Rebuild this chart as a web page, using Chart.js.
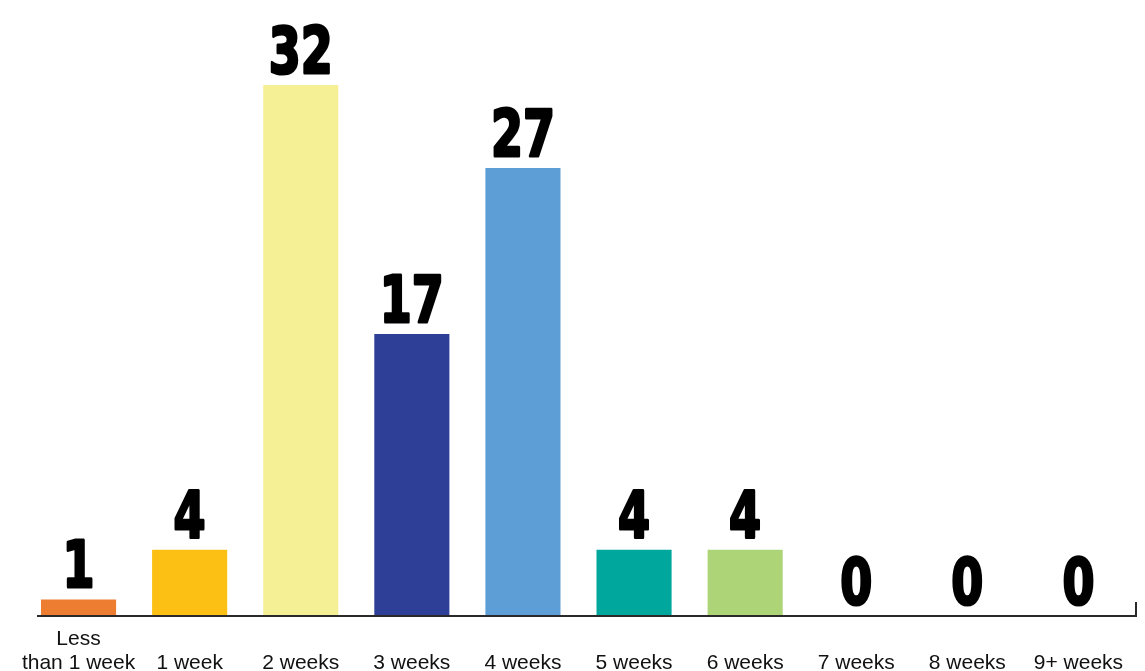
<!DOCTYPE html>
<html>
<head>
    <title>Weeks</title>
    <script src="https://cdn.jsdelivr.net/npm/chart.js"></script>
    <style>
        body { margin: 0; background: #fff; }
        #wrap { width: 1145px; height: 671px; }
    </style>
</head>
<body>
    <div id="wrap"><canvas id="chart"></canvas></div>

    <script>
        const categories = [['Less', 'than 1 week'], ['', '1 week'], ['', '2 weeks'], ['', '3 weeks'], ['', '4 weeks'],
            ['', '5 weeks'], ['', '6 weeks'], ['', '7 weeks'], ['', '8 weeks'], ['', '9+ weeks']];
        const counts = [1, 4, 32, 17, 27, 4, 4, 0, 0, 0];
        const barColors = ['#ED7D31', '#FCC014', '#F5F096', '#2E3F98', '#5E9ED6', '#00A79D', '#ADD577', '#000', '#000', '#000'];

        // big condensed numbers above each bar
        const valueLabels = {
            id: 'valueLabels',
            afterDatasetsDraw(chart) {
                const ctx = chart.ctx;
                const meta = chart.getDatasetMeta(0);
                ctx.save();
                ctx.fillStyle = '#000';
                ctx.strokeStyle = '#000';
                ctx.lineWidth = 3;
                ctx.lineJoin = 'round';
                ctx.font = 'bold 64px "DejaVu Sans"';
                ctx.textAlign = 'center';
                ctx.textBaseline = 'alphabetic';
                meta.data.forEach((bar, i) => {
                    ctx.save();
                    ctx.translate(bar.x, bar.y - 12);
                    ctx.scale(0.72, 1);
                    ctx.fillText(String(counts[i]), 0, 0);
                    ctx.strokeText(String(counts[i]), 0, 0);
                    ctx.restore();
                });
                ctx.restore();
            }
        };

        // baseline with a small end tick on the right
        const axisLine = {
            id: 'axisLine',
            afterDraw(chart) {
                const ctx = chart.ctx;
                const a = chart.chartArea;
                ctx.save();
                ctx.strokeStyle = '#2a2a2a';
                ctx.lineWidth = 2;
                ctx.beginPath();
                ctx.moveTo(a.left + 14, a.bottom);
                ctx.lineTo(a.right + 2, a.bottom);
                ctx.lineTo(a.right + 2, a.bottom - 14);
                ctx.stroke();
                ctx.restore();
            }
        };

        new Chart(document.getElementById('chart'), {
            type: 'bar',
            data: {
                labels: categories,
                datasets: [{
                    data: counts,
                    backgroundColor: barColors,
                    barPercentage: 0.676,
                    categoryPercentage: 1
                }]
            },
            options: {
                responsive: true,
                maintainAspectRatio: false,
                animation: false,
                layout: { padding: { left: 23, right: 11, top: 85, bottom: 0 } },
                plugins: { legend: { display: false }, tooltip: { enabled: false } },
                scales: {
                    x: {
                        grid: { display: false },
                        border: { display: false },
                        afterFit(scale) { scale.height = 55; },
                        ticks: {
                            color: '#111',
                            font: { family: '"Liberation Sans", Arial', size: 21, lineHeight: 1.15 },
                            padding: 3,
                            maxRotation: 0,
                            autoSkip: false
                        }
                    },
                    y: {
                        display: false,
                        min: 0,
                        max: 32
                    }
                }
            },
            plugins: [valueLabels, axisLine]
        });
    </script>
</body>
</html>
